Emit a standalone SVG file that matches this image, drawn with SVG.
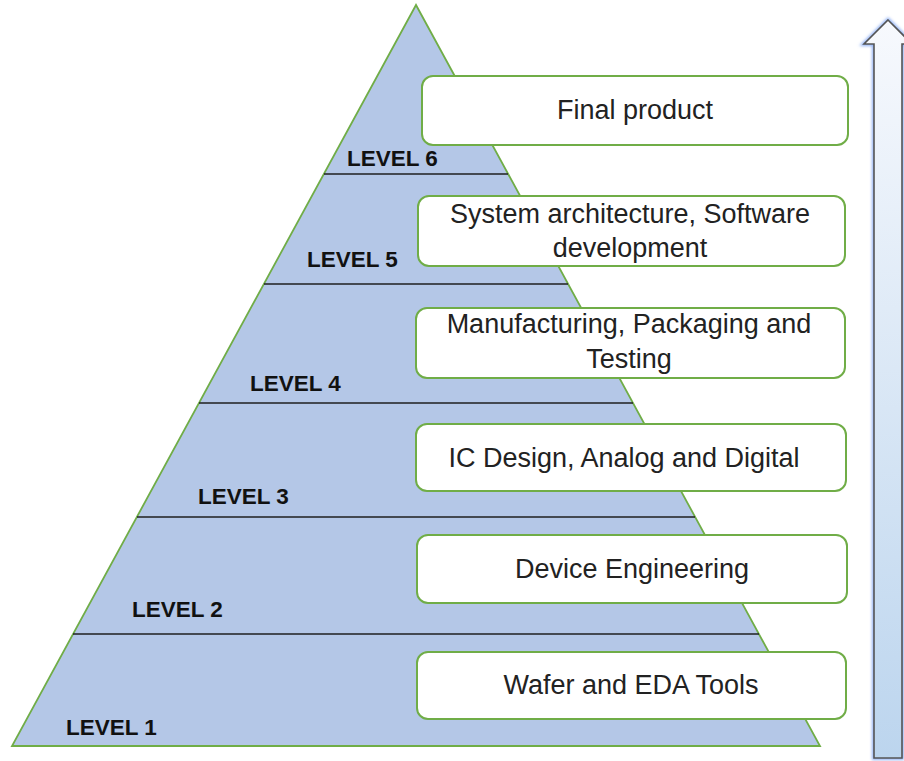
<svg xmlns="http://www.w3.org/2000/svg" width="904" height="761" viewBox="0 0 904 761">
  <defs>
    <linearGradient id="shaftFill" x1="0" y1="0" x2="0" y2="1">
      <stop offset="0" stop-color="#f7f9fd"/>
      <stop offset="1" stop-color="#bcd5ee"/>
    </linearGradient>
    <filter id="glow" x="-50%" y="-5%" width="200%" height="110%">
      <feGaussianBlur stdDeviation="1.5"/>
    </filter>
    <style>
      .pyramid { fill: #b4c7e7; stroke: #70ad47; stroke-width: 1.8; stroke-linejoin: miter; }
      .divider { stroke: #1f1f1f; stroke-width: 1.7; }
      .level { font-family: "Liberation Sans", Arial, sans-serif; font-weight: bold; font-size: 22.5px; fill: #111111; }
      .box { fill: #ffffff; stroke: #70ad47; stroke-width: 2; }
      .label { font-family: "Liberation Sans", Arial, sans-serif; font-size: 27px; fill: #222222; text-anchor: middle; }
    </style>
  </defs>

  <!-- pyramid body -->
  <g id="pyramid">
    <polygon class="pyramid" points="416,5 12,746 820,746"/>
  </g>

  <!-- level dividers -->
  <g id="dividers">
    <line class="divider" x1="324" y1="174" x2="508" y2="174"/>
    <line class="divider" x1="264" y1="284" x2="568" y2="284"/>
    <line class="divider" x1="199" y1="403" x2="633" y2="403"/>
    <line class="divider" x1="137" y1="517" x2="695" y2="517"/>
    <line class="divider" x1="73" y1="634" x2="759" y2="634"/>
  </g>

  <!-- level labels -->
  <g id="level-labels">
    <text class="level" x="347" y="166">LEVEL 6</text>
    <text class="level" x="307" y="267">LEVEL 5</text>
    <text class="level" x="250" y="391">LEVEL 4</text>
    <text class="level" x="198" y="504">LEVEL 3</text>
    <text class="level" x="132" y="617">LEVEL 2</text>
    <text class="level" x="66" y="735">LEVEL 1</text>
  </g>

  <g id="node-final">
    <rect class="box" x="422" y="76" width="426" height="69" rx="11"/>
    <text class="label" x="635" y="119">Final product</text>
  </g>

  <g id="node-system">
    <rect class="box" x="418" y="196" width="427" height="70" rx="11"/>
    <text class="label" x="630" y="223">System architecture, Software</text>
    <text class="label" x="630" y="257">development</text>
  </g>

  <g id="node-manufacturing">
    <rect class="box" x="416" y="308" width="429" height="70" rx="11"/>
    <text class="label" x="629" y="333">Manufacturing, Packaging and</text>
    <text class="label" x="629" y="368">Testing</text>
  </g>

  <g id="node-ic">
    <rect class="box" x="416" y="424" width="430" height="67" rx="11"/>
    <text class="label" x="624" y="467">IC Design, Analog and Digital</text>
  </g>

  <g id="node-device">
    <rect class="box" x="417" y="535" width="430" height="68" rx="11"/>
    <text class="label" x="632" y="578">Device Engineering</text>
  </g>

  <g id="node-wafer">
    <rect class="box" x="417" y="652" width="429" height="67" rx="11"/>
    <text class="label" x="631" y="694">Wafer and EDA Tools</text>
  </g>

  <!-- upward arrow -->
  <g id="arrow">
    <polygon points="888,20 912,44 902,44 902,758 874,758 874,44 864,44" fill="none" stroke="#8fb0f5" stroke-width="4" filter="url(#glow)"/>
    <polygon points="888,20 912,44 902,44 902,758 874,758 874,44 864,44" fill="url(#shaftFill)" stroke="#555555" stroke-width="1.6" stroke-linejoin="miter"/>
  </g>
</svg>
